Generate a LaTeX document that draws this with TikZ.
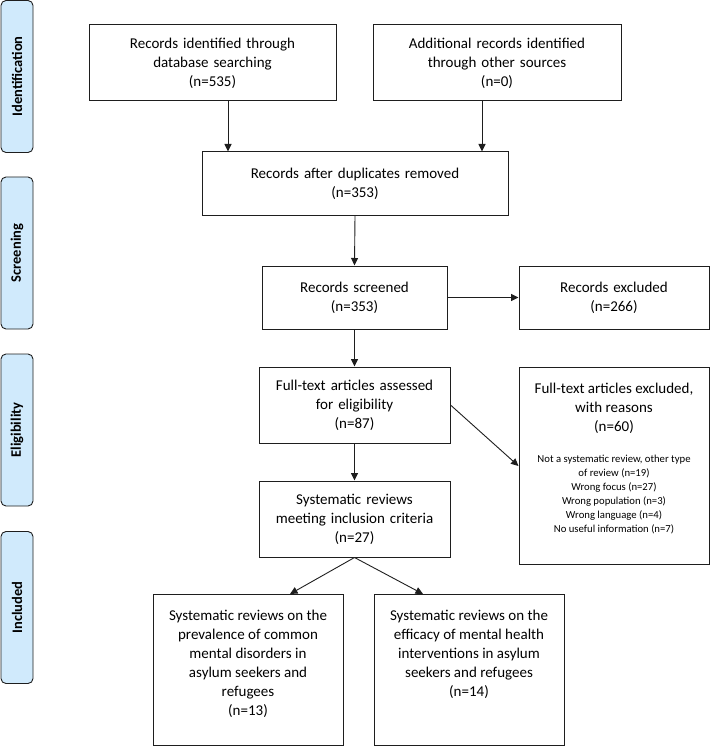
\documentclass[tikz,border=0pt]{standalone}
\usepackage{fontspec}
\setmainfont{Carlito}
\usetikzlibrary{arrows.meta}
\definecolor{sidefill}{RGB}{208,234,252}
\definecolor{linecol}{RGB}{30,30,30}
\tikzset{
  mainfont/.style={font=\fontsize{15}{19}\selectfont},
  box/.style={draw=linecol, line width=1pt, fill=white, align=center, inner sep=2pt,
    mainfont, text width=#1},
  box/.default={170pt},
  frame/.style={draw=linecol, line width=1pt, fill=white, inner sep=0pt},
  txt/.style={align=center, inner sep=0pt, anchor=north, mainfont},
  small/.style={align=center, inner sep=0pt, anchor=north, font=\fontsize{10.7}{13.9}\selectfont},
  side/.style={draw=linecol, line width=0.9pt, fill=sidefill, rounded corners=5pt,
    minimum width=152pt, minimum height=32pt, rotate=90,
    font=\bfseries\fontsize{14.5}{16}\selectfont},
  arr/.style={draw=linecol, line width=0.9pt, -{Triangle[length=7.5pt,width=7pt]}},
}
\begin{document}
\begin{tikzpicture}[x=1pt,y=-1pt]
\useasboundingbox (0,0) rectangle (710,746);
% side labels
\node[side] (sid) at (17,76.5) {Identification};
\node[side] (sscr) at (17,253) {Screening};
\node[side] (selg) at (17,430) {Eligibility};
\node[side] (sinc) at (17,607.5) {Included};
% boxes
\node[box=235pt, minimum width=247pt, minimum height=76pt] (b1) at (212.5,63)
  {Records identified through\\database searching\\(n=535)};
\node[box=235pt, minimum width=248pt, minimum height=76pt] (b2) at (497,63)
  {Additional records identified\\through other sources\\(n=0)};
\node[box=295pt, minimum width=306pt, minimum height=63pt] (b3) at (355,183.5)
  {Records after duplicates removed\\(n=353)};
\node[box=178pt, minimum width=185pt, minimum height=63pt] (b4) at (354.5,297.5)
  {Records screened\\(n=353)};
\node[box=182pt, minimum width=190pt, minimum height=63pt] (b5) at (614,297.5)
  {Records excluded\\(n=266)};
\node[box=184pt, minimum width=191pt, minimum height=76pt] (b6) at (354.5,405)
  {Full-text articles assessed\\for eligibility\\(n=87)};
\node[frame, minimum width=190pt, minimum height=197pt, anchor=north] (b7) at (614,367) {};
\node[txt] (b7h) at (614,382.5)
  {Full-text articles excluded,\\with reasons\\(n=60)};
\node[small] (b7r) at (614,455)
  {Not a systematic review, other type\\of review (n=19)\\Wrong focus (n=27)\\Wrong population (n=3)\\Wrong language (n=4)\\No useful information (n=7)};
\node[box=184pt, minimum width=191pt, minimum height=76pt] (b8) at (354.5,519)
  {Systematic reviews\\meeting inclusion criteria\\(n=27)};
\node[frame, minimum width=190pt, minimum height=151pt, anchor=north] (b9) at (248,594) {};
\node[txt] (b9t) at (248,609.5)
  {Systematic reviews on the\\prevalence of common\\mental disorders in\\asylum seekers and\\refugees\\(n=13)};
\node[frame, minimum width=190pt, minimum height=151pt, anchor=north] (b10) at (469,594) {};
\node[txt] (b10t) at (469,609.5)
  {Systematic reviews on the\\efficacy of mental health\\interventions in asylum\\seekers and refugees\\(n=14)};
% arrows
\coordinate (x1) at (228,0);
\coordinate (x2) at (482,0);
\coordinate (x9) at (290,0);
\coordinate (x10) at (423,0);
\draw[arr] (b1.south -| x1) -- (b3.north -| x1);
\draw[arr] (b2.south -| x2) -- (b3.north -| x2);
\draw[arr] (b3.south) -- (b4.north);
\draw[arr] (b4.east) -- (b5.west);
\draw[arr] (b4.south) -- (b6.north);
\draw[arr] (b6.east) -- (b7.west);
\draw[arr] (b6.south) -- (b8.north);
\draw[arr] (b8.south) -- (b9.north -| x9);
\draw[arr] (b8.south) -- (b10.north -| x10);
\end{tikzpicture}
\end{document}
